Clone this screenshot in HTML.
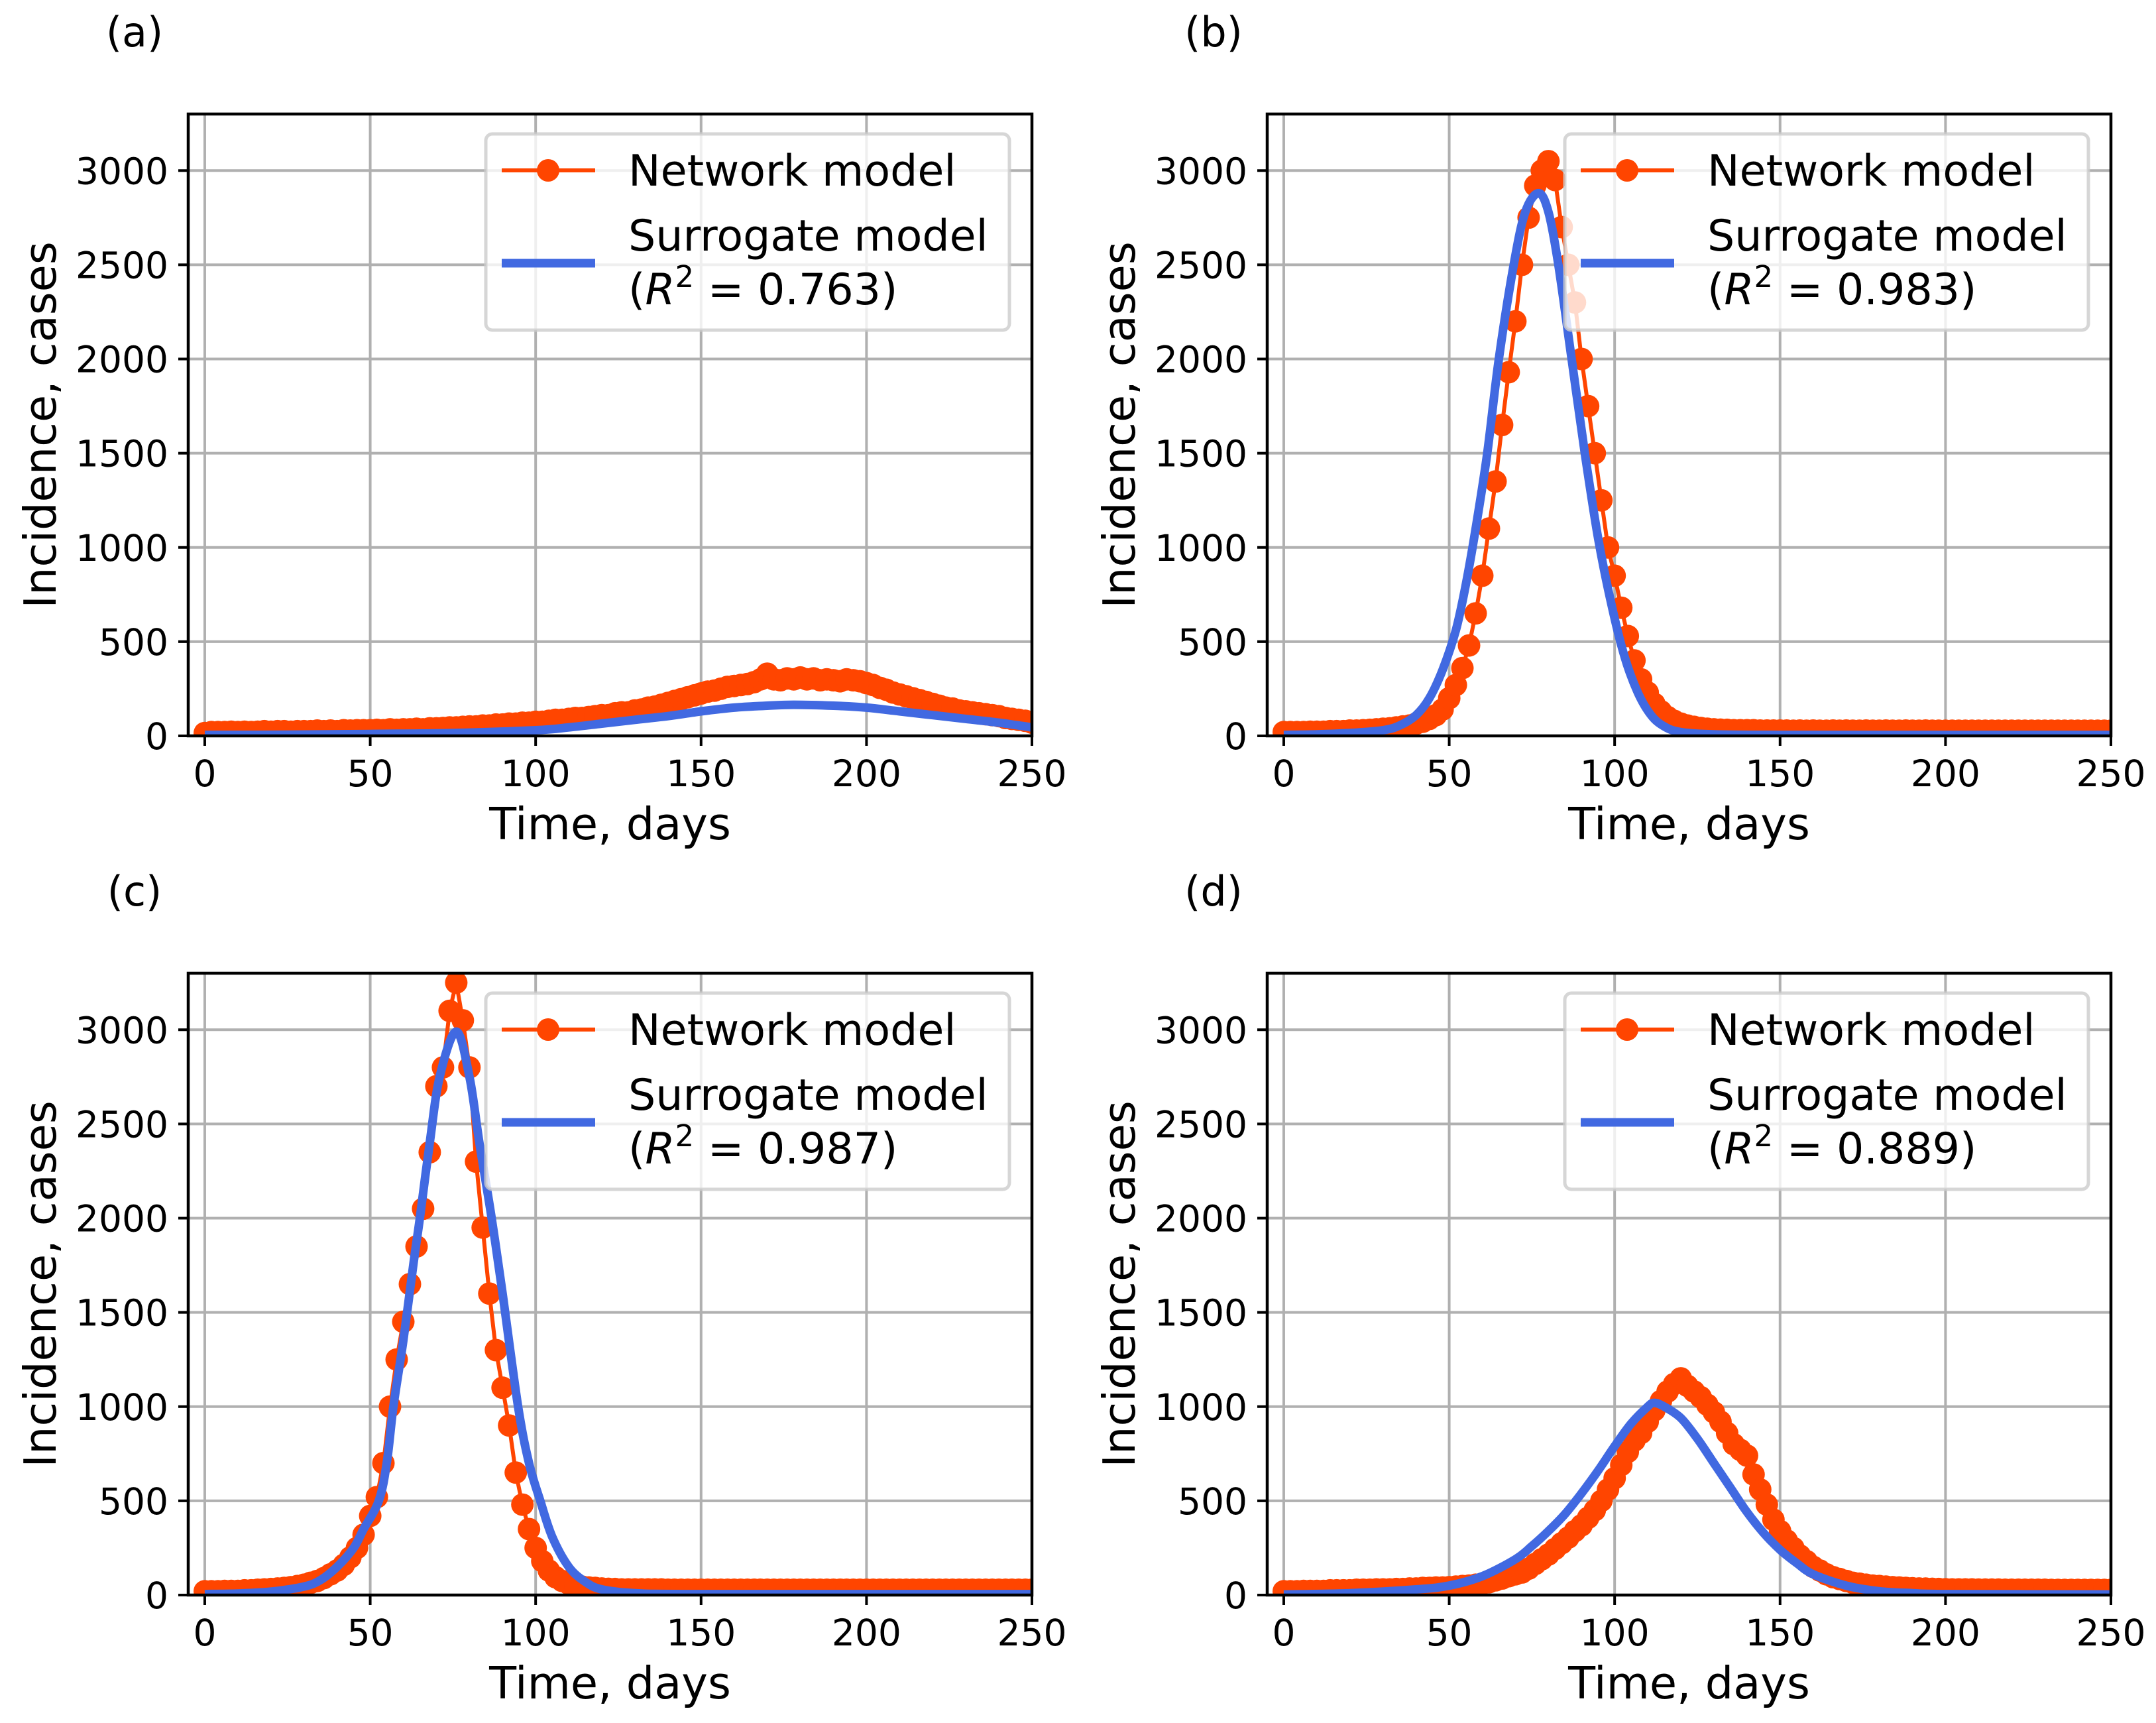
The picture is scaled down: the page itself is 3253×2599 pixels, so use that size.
<!DOCTYPE html>
<html><head><meta charset="utf-8"><style>
html,body{margin:0;padding:0;background:#fff;}
svg{display:block;font-family:"DejaVu Sans","Liberation Sans",sans-serif;}
</style></head><body>
<svg id="fig" xmlns="http://www.w3.org/2000/svg" width="3253" height="2599" viewBox="0 0 3253 2599"></svg>
<script>
// ---------- data ----------
const panelLabels = ["(a)","(b)","(c)","(d)"];
const r2Values = ["0.763","0.983","0.987","0.889"];
const xTicks = [0,50,100,150,200,250];
const yTicks = [0,500,1000,1500,2000,2500,3000];

// network model: one value every 2 days, days 0..250
const networkA = [15,20,20,20,22,20,22,20,22,25,22,25,25,22,25,25,25,28,25,28,25,30,28,30,30,
30,32,30,35,32,35,35,38,35,40,40,42,45,45,48,50,50,55,55,60,60,65,65,70,70,
75,75,80,85,85,90,95,95,100,105,110,110,120,125,125,135,140,150,155,165,175,185,195,205,215,
225,235,240,250,260,265,270,275,285,300,330,300,295,305,300,310,300,305,295,300,295,290,300,295,290,
280,270,255,245,230,220,210,200,190,180,170,160,150,145,135,130,125,120,115,110,105,95,90,85,80,70];
const networkB = [20,20,20,20,22,22,22,25,25,25,28,28,30,32,35,38,40,45,50,55,65,75,90,110,140,
200,270,360,480,650,850,1100,1350,1650,1930,2200,2500,2750,2920,3000,3050,2950,2700,2500,2300,2000,1750,1500,1250,1000,
850,680,530,400,300,230,170,130,100,80,65,55,48,42,38,35,33,32,30,30,30,30,28,28,28,
28,28,27,28,27,28,27,27,28,27,28,27,27,28,27,27,28,27,27,28,27,27,28,27,27,
27,27,27,27,27,27,27,27,27,27,27,27,27,27,27,27,27,27,27,27,27,27,27,27,27,27];
const networkC = [20,20,20,22,22,22,25,25,28,30,32,35,38,42,48,55,65,75,90,110,130,160,200,250,320,
420,520,700,1000,1250,1450,1650,1850,2050,2350,2700,2800,3100,3250,3050,2800,2300,1950,1600,1300,1100,900,650,480,350,
250,180,130,95,75,60,50,45,40,38,35,33,32,30,30,30,30,30,30,30,28,28,28,28,28,
28,28,28,28,28,28,28,28,28,28,28,28,28,28,28,28,28,28,28,28,28,28,28,28,28,
28,28,28,28,28,28,28,28,28,28,28,28,28,28,28,28,28,28,28,28,28,28,28,28,28,28];
const networkD = [20,20,20,22,22,22,22,25,25,25,25,28,28,28,30,30,30,32,32,35,35,38,38,40,40,
42,45,48,50,55,60,68,78,88,100,110,120,140,165,190,215,245,275,305,340,370,410,450,500,560,
620,690,760,820,860,920,980,1030,1080,1120,1150,1110,1080,1050,1010,970,920,860,800,770,740,640,560,480,400,
340,290,250,210,180,150,130,110,95,85,75,65,60,55,50,48,45,42,40,38,36,35,34,33,32,
31,30,30,30,30,29,29,29,29,28,28,28,28,28,28,28,27,27,27,27,27,27,27,27,27,27];

// surrogate model samples (day, value)
const surrogateDaysA = [0,25,50,75,100,110,120,130,140,150,160,170,178,190,200,210,220,230,240,250];
const surrogateA = [5,6,10,15,30,45,65,85,105,130,150,160,165,160,150,130,110,90,70,45];
const surrogateDaysB = [0,10,20,30,35,40,44,48,52,55,58,61.5,65,69.5,73,77,80,83,87,91,95,99,103,107,111,115,120,130,150,200,250];
const surrogateB = [5,8,15,30,55,110,200,350,560,800,1100,1500,2000,2500,2780,2880,2780,2500,2000,1500,1050,700,420,230,110,50,20,8,5,5,5];
const surrogateDaysC = [0,10,20,30,35,40,45,48,52.6,55,57,60,63,65,68,71,76,80,83,86.7,90,94.7,98,101.4,105,110,115,120,130,150,250];
const surrogateC = [5,8,18,45,80,150,250,350,500,700,1000,1350,1750,2000,2400,2750,2990,2750,2400,2000,1600,1000,700,500,310,150,70,30,10,5,5];
const surrogateDaysD = [0,20,40,50,60,70,75,80,85,90,95,100,105,110,112,115,120,125,130,135,140,145,150,155,160,170,180,190,200,250];
const surrogateD = [3,10,30,50,100,190,260,340,430,540,660,790,910,1000,1020,1000,940,830,700,570,440,330,240,170,110,50,20,10,5,3];

const networks = [networkA,networkB,networkC,networkD];
const surDays = [surrogateDaysA,surrogateDaysB,surrogateDaysC,surrogateDaysD];
const surVals = [surrogateA,surrogateB,surrogateC,surrogateD];

// ---------- layout ----------
const NS="http://www.w3.org/2000/svg";
const svg=document.getElementById('fig');
const offs=[[0,0],[1628,0],[0,1296],[1628,1296]];
const AX_L=284, AX_R=1557, AX_T=172, AX_B=1110;
const XMIN=-5, XMAX=250, YMIN=0, YMAX=3300;
function el(tag,attrs,parent){const e=document.createElementNS(NS,tag);for(const k in attrs)e.setAttribute(k,attrs[k]);(parent||svg).appendChild(e);return e;}
function catmull(pts){
  let d=`M${pts[0][0]},${pts[0][1]}`;
  for(let i=0;i<pts.length-1;i++){
    const p0=pts[Math.max(0,i-1)],p1=pts[i],p2=pts[i+1],p3=pts[Math.min(pts.length-1,i+2)];
    const c1x=p1[0]+(p2[0]-p0[0])/6,c1y=p1[1]+(p2[1]-p0[1])/6;
    const c2x=p2[0]-(p3[0]-p1[0])/6,c2y=p2[1]-(p3[1]-p1[1])/6;
    d+=` C${c1x.toFixed(1)},${c1y.toFixed(1)} ${c2x.toFixed(1)},${c2y.toFixed(1)} ${p2[0].toFixed(1)},${p2[1].toFixed(1)}`;
  }
  return d;
}

for(let p=0;p<4;p++){
  const [ox,oy]=offs[p];
  const sx=d=>ox+AX_L+(d-XMIN)/(XMAX-XMIN)*(AX_R-AX_L);
  const sy=v=>oy+AX_B-(v-YMIN)/(YMAX-YMIN)*(AX_B-AX_T);
  const g=el('g',{});
  
  
  const cid='clip'+p;
  const cp=el('clipPath',{id:cid},g);
  el('rect',{x:ox+AX_L,y:oy+AX_T,width:AX_R-AX_L,height:AX_B-AX_T},cp);

  // panel label
  const pl=el('text',{x:ox+203,y:oy+70,'font-size':62,'text-anchor':'middle'},g);
  pl.textContent=panelLabels[p];
  
  

  // grid
  const grid=el('g',{stroke:'#b0b0b0','stroke-width':4},g);
  
  
  xTicks.forEach(t=>el('line',{x1:sx(t),x2:sx(t),y1:oy+AX_T,y2:oy+AX_B},grid));
  yTicks.forEach(t=>el('line',{x1:ox+AX_L,x2:ox+AX_R,y1:sy(t),y2:sy(t)},grid));

  // network series
  const net=networks[p];
  const ng=el('g',{'clip-path':`url(#${cid})`},g);
  
  
  const npts=net.map((v,i)=>[sx(i*2),sy(v)]);
  el('polyline',{points:npts.map(q=>q[0].toFixed(1)+','+q[1].toFixed(1)).join(' '),fill:'none',stroke:'#ff4500','stroke-width':6,'stroke-linejoin':'round'},ng);
  npts.forEach(q=>{
    const c=el('circle',{cx:q[0].toFixed(1),cy:q[1].toFixed(1),r:17,fill:'#ff4500'},ng);
    
    
  });

  // surrogate series
  const spts=surDays[p].map((d,i)=>[sx(d),sy(surVals[p][i])]);
  const sl=el('path',{d:catmull(spts),fill:'none',stroke:'#4169e1','stroke-width':13,'stroke-linejoin':'round','clip-path':`url(#${cid})`},g);
  
  

  // spines
  const sp=el('rect',{x:ox+AX_L,y:oy+AX_T,width:AX_R-AX_L,height:AX_B-AX_T,fill:'none',stroke:'#000','stroke-width':4.5},g);
  
  

  // ticks
  const tg=el('g',{'font-size':55},g);
  
  
  xTicks.forEach(t=>{
    el('line',{x1:sx(t),x2:sx(t),y1:oy+AX_B,y2:oy+AX_B+15,stroke:'#000','stroke-width':4},tg);
    const tx=el('text',{x:sx(t),y:oy+AX_B+76,'text-anchor':'middle'},tg);
    tx.textContent=t;
    
    
  });
  yTicks.forEach(t=>{
    el('line',{x1:ox+AX_L-15,x2:ox+AX_L,y1:sy(t),y2:sy(t),stroke:'#000','stroke-width':4},tg);
    const ty=el('text',{x:ox+AX_L-30,y:sy(t)+20,'text-anchor':'end'},tg);
    ty.textContent=t;
    
    
  });

  // axis titles
  const xt=el('text',{x:ox+(AX_L+AX_R)/2+0,y:oy+1266,'font-size':67,'text-anchor':'middle'},g);
  xt.textContent='Time, days';
  
  
  const yt=el('text',{x:0,y:0,'font-size':67,'text-anchor':'middle',transform:`translate(${ox+84},${oy+(AX_T+AX_B)/2}) rotate(-90)`},g);
  yt.textContent='Incidence, cases';
  
  

  // legend
  const lg=el('g',{},g);
  
  
  el('rect',{x:ox+733,y:oy+202,width:790,height:296,rx:10,fill:'#fff','fill-opacity':0.8,stroke:'#cccccc','stroke-opacity':0.8,'stroke-width':5},lg);
  const le1=el('g',{},lg);
  
  
  el('line',{x1:ox+757,x2:ox+898,y1:oy+257,y2:oy+257,stroke:'#ff4500','stroke-width':6},le1);
  el('circle',{cx:ox+827,cy:oy+257,r:17,fill:'#ff4500'},le1);
  const t1=el('text',{x:ox+948,y:oy+280,'font-size':65},le1);
  t1.textContent='Network model';
  const le2=el('g',{},lg);
  
  
  el('line',{x1:ox+757,x2:ox+898,y1:oy+397,y2:oy+397,stroke:'#4169e1','stroke-width':13},le2);
  const t2=el('text',{x:ox+948,y:oy+378,'font-size':65},le2);
  t2.textContent='Surrogate model';
  const t3=el('text',{x:ox+948,y:oy+459,'font-size':65},le2);
  t3.innerHTML='(<tspan font-style="italic">R</tspan><tspan font-size="45" dy="-26">2</tspan><tspan dy="26"> = '+r2Values[p]+')</tspan>';
}
</script>
</body></html>
